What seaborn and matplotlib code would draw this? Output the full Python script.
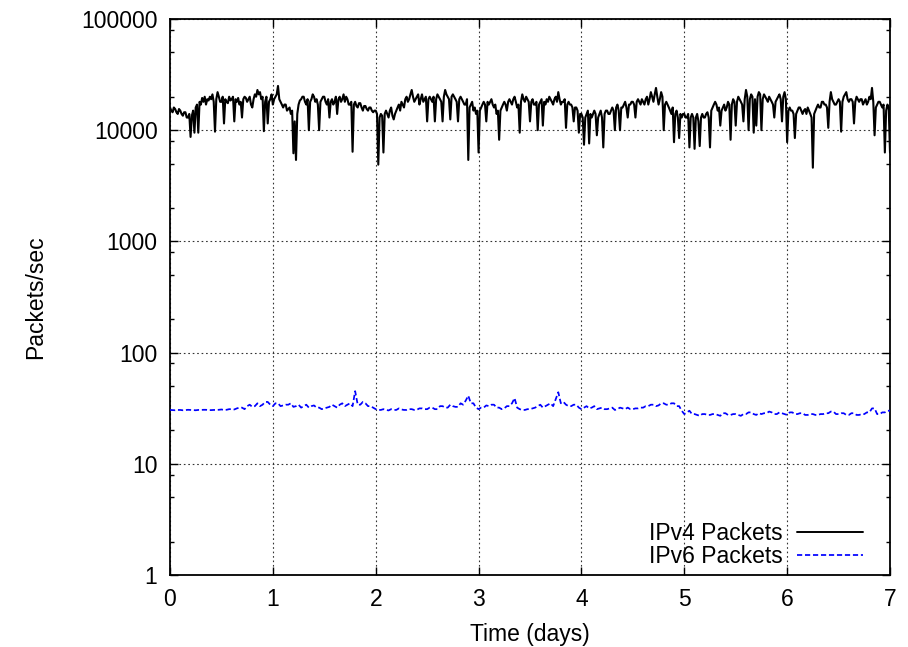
import numpy as np
import pandas as pd
import matplotlib
matplotlib.use("Agg")
import matplotlib.pyplot as plt
from matplotlib.ticker import FixedLocator, FixedFormatter, LogLocator, NullFormatter
from matplotlib.lines import Line2D
import seaborn as sns

# IPv4 packet rate (thousands of packets/sec), one sample every 0.0125 days
ipv4_step = 0.0125
ipv4_kpps = [
    16, 15, 14.5, 16, 15.5, 14.5, 14, 15.5, 15, 14, 13.5, 14.5, 14.5, 13, 13, 14, 8.7, 13.5, 15, 9.5,
    16, 17, 9.5, 18, 17, 19.5, 18, 20, 17, 19, 18.5, 20, 19, 21, 18, 9.7, 19, 22, 20, 18,
    18, 20, 11.5, 19, 18, 17.5, 20, 18.5, 19, 20, 12, 19, 18, 19.5, 17, 18, 13, 19, 20, 19.5,
    18, 19, 20, 17, 16, 19, 21, 20, 23, 21, 22, 19, 20, 9.8, 18, 20, 11.5, 18, 19, 21,
    17, 19, 20, 21, 25, 19, 18, 17, 16, 17, 17, 15, 15.5, 16, 14, 15, 6.2, 12, 5.4, 14,
    17, 18.5, 19, 20, 20, 18, 17, 19, 10, 18, 19, 21, 20, 18, 19, 17, 10, 18, 19, 20,
    20, 18, 17, 19, 13, 18, 19, 17, 18, 20, 14, 19, 20, 18, 19, 21, 18, 20, 19, 17,
    17, 18, 6.4, 17, 18, 16.5, 16, 17.5, 17.5, 16, 15, 16.5, 16.5, 15.5, 15, 16, 16, 15, 14.5, 15,
    15, 14, 4.9, 13, 14, 13.5, 6.3, 14, 15, 14, 13, 15, 16, 13.5, 12.5, 14, 15, 16, 17, 15,
    18, 17, 16, 19, 20, 18, 19, 21, 23, 20, 18, 19, 20, 21, 17, 19, 21, 18, 19, 20,
    12, 19, 20, 19, 18, 20, 12, 19, 21, 20, 19, 18, 12, 20, 23, 21, 20, 19, 12.5, 20,
    21, 20, 19, 18, 12, 19, 20, 19, 18, 17, 17, 19, 5.4, 16, 17, 18, 15, 16, 14, 15,
    6.3, 15, 16, 17, 18, 17, 12, 18, 17, 18, 19, 17, 16, 17, 14, 15, 8.2, 15, 16, 17,
    18, 17, 15, 18, 19, 18, 17, 19, 20, 18, 16, 17, 9.5, 18, 21, 19, 18, 20, 19, 18,
    12, 18, 19, 17, 17, 18, 10, 17, 18, 19, 11, 18, 17, 19, 18, 20, 19, 18, 17, 19,
    20, 18, 22, 19, 17, 18, 18, 19, 10.5, 17, 18, 17, 17, 16, 12, 16, 16, 15, 9.5, 14,
    14, 13, 7.4, 13, 14, 15, 7.6, 14, 13, 14, 15, 14, 9, 13, 14, 15, 13, 7, 14, 15,
    15, 14, 14, 15, 16, 15, 10, 16, 17, 15, 10, 16, 16, 17, 18, 16, 13, 17, 17, 18,
    18, 17, 13, 18, 19, 18, 17, 19, 18, 17, 19, 20, 17, 19, 22, 20, 18, 21, 24, 20,
    17, 19, 22, 20, 10, 17, 18, 17, 16, 15, 14, 16, 7.8, 14, 15, 13, 8.5, 14, 13, 14,
    14, 13, 13, 14, 7, 13, 14, 13, 6.8, 13, 14, 12, 7.2, 13, 14, 13, 13, 14, 14.5, 13,
    7, 15, 16, 17, 18, 17, 15, 16, 11, 15, 16, 17, 15, 16, 18, 17, 8.2, 17, 19, 18,
    11, 18, 20, 19, 18, 17, 12, 19, 23, 20, 10, 19, 21, 20, 9.5, 19, 11, 20, 22, 21,
    10, 19, 21, 20, 19, 18, 20, 19, 18, 17, 13, 18, 19, 20, 21, 19, 12, 20, 22, 19,
    7.8, 15, 16, 15, 15, 14, 8.5, 14, 15, 16, 16, 15, 14, 15, 15.5, 14, 16, 15, 14, 13,
    4.6, 14, 15, 16, 17, 16, 16, 18, 18, 17, 17, 16, 10.5, 18, 22, 19, 18, 17, 17, 18,
    19, 18, 9.7, 18, 20, 21, 22, 19, 18, 19, 19, 18, 11.5, 18, 20, 19, 18, 19, 19, 17,
    18, 19, 17, 18, 20, 19, 24, 18, 9, 16, 17, 18, 18, 17, 16, 17, 6.3, 15, 17, 16,
    6.3,
]

# IPv6 packet rate (packets/sec), one sample every 0.025 days
ipv6_step = 0.025
ipv6_pps = [
    30.5, 30.4, 30.3, 30.5, 30.5, 30.3, 30.4, 30.6, 30.5, 30.4, 30.3, 30.5, 30.5, 30.6, 30.6, 30.4, 30.4, 30.5, 30.5, 30.6,
    30.8, 30.5, 30.6, 31, 31, 30.8, 31.5, 32, 32, 31, 33, 34, 32.5, 33, 35, 33, 34, 36, 36, 34,
    33, 35, 35, 33, 33.5, 34, 34, 35, 32.5, 33, 34, 32, 33, 34, 32, 33, 33.5, 32, 32, 31,
    31.5, 32, 32.5, 34, 33, 32, 34, 35, 33, 34, 35, 33, 45, 34, 34, 36, 35, 33, 33, 32,
    31, 30.5, 30.5, 31, 30.5, 30.2, 31, 30.5, 30.5, 31.5, 30.8, 30.5, 30.5, 31, 31, 30.5, 30.6, 31.5, 31.5, 31,
    31, 32, 32, 31, 31, 33, 33, 32, 32, 34, 33, 32.5, 32.5, 35, 34, 37, 41, 35, 35, 32,
    31, 32, 32, 33.5, 33, 34, 34, 32, 32, 31, 31.5, 33, 33, 35, 39, 32, 31, 30.5, 30.5, 31,
    31, 31.5, 32, 33, 34, 32, 33, 34, 35, 33, 38, 44, 35, 36, 34, 33, 33, 34, 34, 32,
    31, 32, 33, 31.5, 32, 33, 31, 31.5, 32, 31, 31, 31.5, 32, 30.5, 31, 32, 31.5, 31, 32, 31,
    31, 31.5, 31.5, 32, 32, 33, 33, 34, 34, 33, 33.5, 35, 35, 34, 34, 35, 35, 33, 33, 30,
    28, 29, 30, 28, 28, 27.5, 27, 28, 28, 27.5, 27.5, 28, 28, 27.5, 27, 28.5, 28.5, 27.5, 27.5, 28,
    28, 27.5, 27, 28, 28, 29, 29, 28, 27.5, 28.5, 28, 28.5, 28.5, 29.5, 29, 28, 28, 29, 28.5, 28,
    27.5, 29, 29, 28, 28, 28.5, 28.5, 27.5, 27.5, 28, 28, 27.5, 27.5, 28, 28, 28.5, 28.5, 29.5, 29.5, 28,
    28, 28.5, 28.5, 27.5, 27.5, 28.5, 28.5, 27.5, 27.5, 28, 28, 29, 29, 31.5, 31.5, 28, 28, 29, 29, 30,
    30,
]

series_labels = ["IPv4 Packets", "IPv6 Packets"]
x_ticks = [0, 1, 2, 3, 4, 5, 6, 7]
y_ticks = [1, 10, 100, 1000, 10000, 100000]
y_tick_labels = ["1", "10", "100", "1000", "10000", "100000"]

ipv4 = pd.DataFrame({
    "days": np.arange(len(ipv4_kpps)) * ipv4_step,
    "pps": np.array(ipv4_kpps) * 1000.0,
})
ipv6 = pd.DataFrame({
    "days": np.arange(len(ipv6_pps)) * ipv6_step,
    "pps": np.array(ipv6_pps),
})

FS = 16.5
sns.set_style("ticks")
plt.rcParams["font.family"] = ["Liberation Sans", "DejaVu Sans"]
plt.rcParams["font.size"] = FS
plt.rcParams["text.color"] = "black"
plt.rcParams["axes.labelcolor"] = "black"
plt.rcParams["xtick.color"] = "black"
plt.rcParams["ytick.color"] = "black"

fig = plt.figure(figsize=(9.08, 6.47), dpi=100)
ax = fig.add_axes([170 / 908, 1 - 575 / 647, 720 / 908, 556 / 647])

ipv6_dash = (0, (3.0, 1.6))
sns.lineplot(data=ipv4, x="days", y="pps", ax=ax, color="black",
             linewidth=1.5, estimator=None, zorder=3)
sns.lineplot(data=ipv6, x="days", y="pps", ax=ax, color="#0000ff",
             linewidth=1.25, estimator=None, zorder=3, linestyle=ipv6_dash)

ax.set_yscale("log")
ax.set_xlim(0, 7)
ax.set_ylim(1, 100000)
ax.xaxis.set_major_locator(FixedLocator(x_ticks))
ax.yaxis.set_major_locator(FixedLocator(y_ticks))
ax.yaxis.set_major_formatter(FixedFormatter(y_tick_labels))
ax.yaxis.set_minor_locator(LogLocator(base=10, subs=[2, 5, 8]))
ax.yaxis.set_minor_formatter(NullFormatter())

ax.tick_params(axis="both", which="major", direction="in", length=6,
               width=1.0, top=True, right=True, labelsize=FS, pad=9,
               colors="black")
ax.tick_params(axis="y", which="minor", direction="in", length=3,
               width=1.0, right=True)
ax.tick_params(axis="x", which="minor", bottom=False, top=False)

ax.grid(True, which="major", color="#333333", linewidth=0.8,
        linestyle=(0, (1.5, 2.5)))
ax.set_axisbelow(True)
for sp in ax.spines.values():
    sp.set_visible(True)
    sp.set_linewidth(1.3)
    sp.set_color("black")

ax.set_xlabel("Time (days)", fontsize=FS, color="black")
ax.set_ylabel("Packets/sec", fontsize=FS, color="black")
ax.xaxis.set_label_coords(0.5, -0.087)
ax.yaxis.set_label_coords(-0.171, 0.5)

handles = [
    Line2D([], [], color="black", linewidth=1.4),
    Line2D([], [], color="#0000ff", linewidth=1.25, linestyle=ipv6_dash),
]
ax.legend(handles, series_labels, loc="lower right", frameon=False,
          markerfirst=False, handlelength=2.9, handletextpad=0.6,
          labelspacing=0.0, borderaxespad=0.3, fontsize=FS,
          bbox_to_anchor=(0.985, -0.017))

fig.savefig("out.png", dpi=100)
